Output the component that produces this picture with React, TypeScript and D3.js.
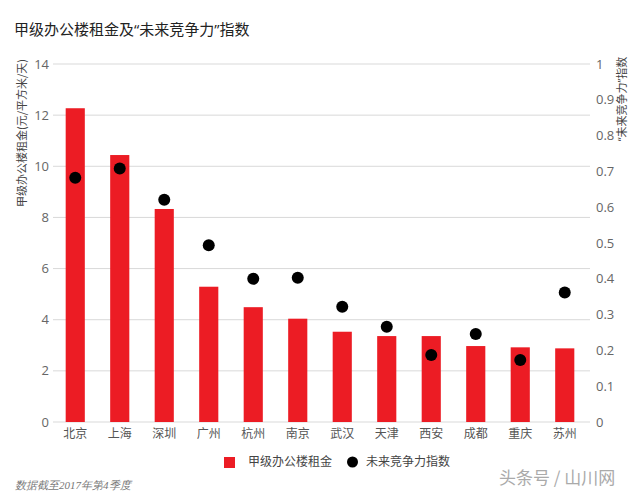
import React from "react";
import * as d3 from "d3";

const cities = ["北京", "上海", "深圳", "广州", "杭州", "南京", "武汉", "天津", "西安", "成都", "重庆", "苏州"];
const rent = [12.27, 10.44, 8.33, 5.29, 4.49, 4.04, 3.53, 3.36, 3.36, 2.97, 2.92, 2.88];
const index = [0.682, 0.708, 0.621, 0.494, 0.4, 0.403, 0.322, 0.266, 0.187, 0.246, 0.173, 0.362];
const leftTicks = [0, 2, 4, 6, 8, 10, 12, 14];
const rightTicks = [0, 0.1, 0.2, 0.3, 0.4, 0.5, 0.6, 0.7, 0.8, 0.9, 1];

const W = 640;
const H = 494;
const FONT = "'Noto Sans CJK SC', 'Noto Sans', sans-serif";
const LATIN = "'Open Sans', 'Noto Sans', sans-serif";
const RED = "#ec1c24";

export default function App() {
  const x = d3.scaleBand<string>().domain(cities).range([53, 587]).paddingInner(0.57).paddingOuter(0.285);
  const yL = d3.scaleLinear().domain([0, 14]).range([422, 64]);
  const yR = d3.scaleLinear().domain([0, 1]).range([422, 64]);

  return (
    <svg width={W} height={H} style={{ position: "absolute", left: 0, top: 0, background: "#fff" }} fontFamily={FONT}>
      <rect x={0} y={0} width={W} height={H} fill="#fff" />
      <text x={14} y={35} fontSize={15} fill="#222">
        甲级办公楼租金及<tspan fontFamily={LATIN}>“</tspan>未来竞争力<tspan fontFamily={LATIN}>”</tspan>指数
      </text>

      {leftTicks.map((t) => (
        <g key={"g" + t}>
          <line x1={53} x2={590} y1={yL(t)} y2={yL(t)} stroke="#d9d9d9" strokeWidth={1} />
          <text x={49} y={yL(t)} dy="0.35em" textAnchor="end" fontSize={13} fill="#666" fontFamily={LATIN}>{t}</text>
        </g>
      ))}
      {rightTicks.map((t) => (
        <text key={"r" + t} x={596} y={yR(t)} dy="0.35em" fontSize={13} fill="#666" fontFamily={LATIN}>{d3.format("~g")(t)}</text>
      ))}

      <text transform={`translate(26,133) rotate(-90)`} textAnchor="middle" fontSize={11} fill="#444">甲级办公楼租金(元/平方米/天)</text>
      <text transform={`translate(626,99) rotate(-90)`} textAnchor="middle" fontSize={11} fill="#444">
        <tspan fontFamily={LATIN}>“</tspan>未来竞争力<tspan fontFamily={LATIN}>”</tspan>指数
      </text>

      {cities.map((c, i) => (
        <rect key={"b" + c} x={x(c)} y={yL(rent[i])} width={x.bandwidth()} height={yL(0) - yL(rent[i])} fill={RED} />
      ))}
      {cities.map((c, i) => (
        <circle key={"d" + c} cx={(x(c) as number) + x.bandwidth() / 2} cy={yR(index[i])} r={6} fill="#000" />
      ))}
      {cities.map((c) => (
        <text key={"l" + c} x={(x(c) as number) + x.bandwidth() / 2} y={434} dy="0.35em" textAnchor="middle" fontSize={12} fill="#555">{c}</text>
      ))}

      <rect x={224} y={457} width={11} height={11} fill={RED} />
      <text x={248} y={462} dy="0.35em" fontSize={12} fill="#444">甲级办公楼租金</text>
      <circle cx={352.5} cy={462} r={5.5} fill="#000" />
      <text x={366} y={462} dy="0.35em" fontSize={12} fill="#444">未来竞争力指数</text>

      <text x={15} y={489} fontSize={11} fontStyle="italic" fontFamily="'Liberation Serif', 'DejaVu Serif', serif" fill="#777">数据截至2017年第4季度</text>
      <text x={499} y={478} dy="0.35em" fontSize={17} fill="#aaa">头条号 / 山川网</text>
    </svg>
  );
}
